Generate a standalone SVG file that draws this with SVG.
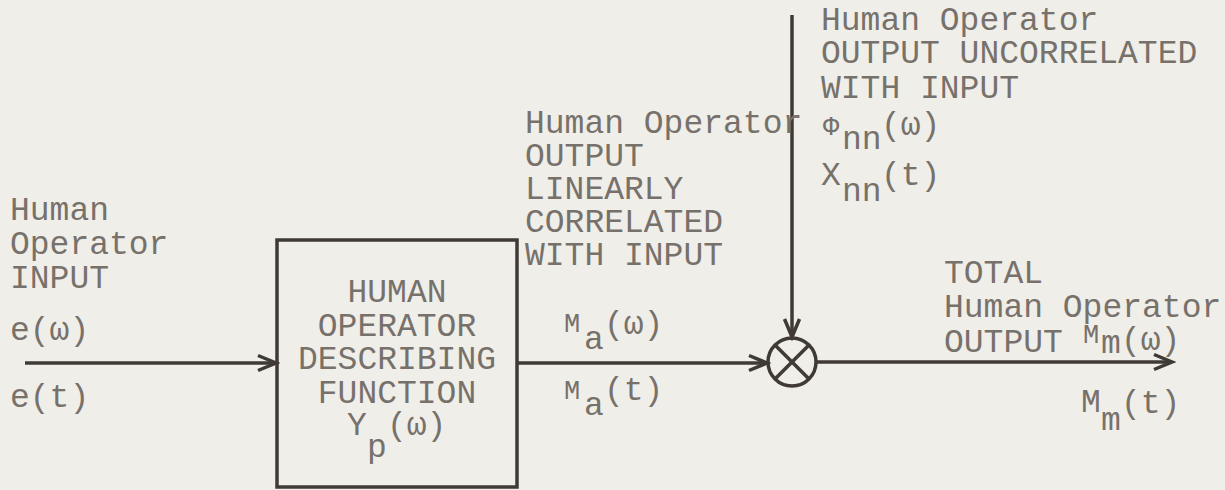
<svg xmlns="http://www.w3.org/2000/svg" width="1225" height="490" viewBox="0 0 1225 490">
<style>
.t{font-family:"Liberation Mono","DejaVu Sans Mono",monospace;font-size:33px;fill:#77716b}
.s{font-size:27px}
.ln{stroke:#3f3a35;stroke-width:3.5;fill:none}
</style>
<defs>
<marker id="arr" markerUnits="userSpaceOnUse" viewBox="-24 -12 28 24" markerWidth="28" markerHeight="24" refX="0" refY="0" orient="auto">
<path d="M-18,-7.5 L0,0 L-18,7.5" fill="none" stroke="#3f3a35" stroke-width="3.5"/>
</marker>
</defs>
<rect width="1225" height="490" fill="#f0eee9"/>
<g id="connectors">
<line class="ln" x1="25" y1="363" x2="276" y2="363" marker-end="url(#arr)"/>
<line class="ln" x1="517" y1="363" x2="767" y2="363" marker-end="url(#arr)"/>
<line class="ln" x1="792" y1="15" x2="792" y2="337" marker-end="url(#arr)"/>
<line class="ln" x1="816" y1="362" x2="1172" y2="362" marker-end="url(#arr)"/>
</g>
<g id="input-label">
<text class="t" x="10" y="220">Human<tspan x="10" dy="34">Operator</tspan><tspan x="10" dy="34">INPUT</tspan></text>
<text class="t" x="10" y="340">e(ω)</text>
<text class="t" x="10" y="407">e(t)</text>
</g>
<g id="describing-function">
<rect class="ln" x="277" y="240" width="240" height="247" stroke-width="4"/>
<text class="t" x="397" y="302" text-anchor="middle">HUMAN<tspan x="397" dy="33.5">OPERATOR</tspan><tspan x="397" dy="33.5">DESCRIBING</tspan><tspan x="397" dy="33.5">FUNCTION</tspan></text>
<text class="t" x="347" y="435">Y<tspan x="367" dy="22">p</tspan><tspan x="387" dy="-22">(ω)</tspan></text>
</g>
<g id="linear-output-label">
<text class="t" x="525" y="133">Human Operator<tspan x="525" dy="32.5">OUTPUT</tspan><tspan x="525" dy="33">LINEARLY</tspan><tspan x="525" dy="33.5">CORRELATED</tspan><tspan x="525" dy="33">WITH INPUT</tspan></text>
<text class="t" x="564" y="332"><tspan class="s">M</tspan><tspan x="584" dy="17">a</tspan><tspan x="604" dy="-15">(ω)</tspan></text>
<text class="t" x="564" y="399"><tspan class="s">M</tspan><tspan x="584" dy="16">a</tspan><tspan x="604" dy="-15">(t)</tspan></text>
</g>
<g id="summing-junction">
<circle class="ln" cx="792" cy="362" r="24"/>
<line class="ln" x1="775" y1="345" x2="809" y2="379"/>
<line class="ln" x1="809" y1="345" x2="775" y2="379"/>
</g>
<g id="uncorrelated-label">
<text class="t" x="821" y="30">Human Operator<tspan x="821" dy="33">OUTPUT UNCORRELATED</tspan><tspan x="821" dy="35">WITH INPUT</tspan></text>
<text class="t" x="823" y="135"><tspan class="s">Φ</tspan><tspan x="842" dy="14">nn</tspan><tspan x="881" dy="-14">(ω)</tspan></text>
<text class="t" x="821" y="185">X<tspan x="842" dy="16">nn</tspan><tspan x="881" dy="-16">(t)</tspan></text>
</g>
<g id="total-output-label">
<text class="t" x="944" y="283">TOTAL<tspan x="944" dy="34">Human Operator</tspan><tspan x="944" dy="35">OUTPUT</tspan><tspan class="s" x="1083" dy="-9">M</tspan><tspan x="1101" dy="10">m</tspan><tspan x="1121" dy="-3">(ω)</tspan></text>
<text class="t" x="1081" y="412">M<tspan x="1101" dy="18">m</tspan><tspan x="1121" dy="-17">(t)</tspan></text>
</g>
</svg>
